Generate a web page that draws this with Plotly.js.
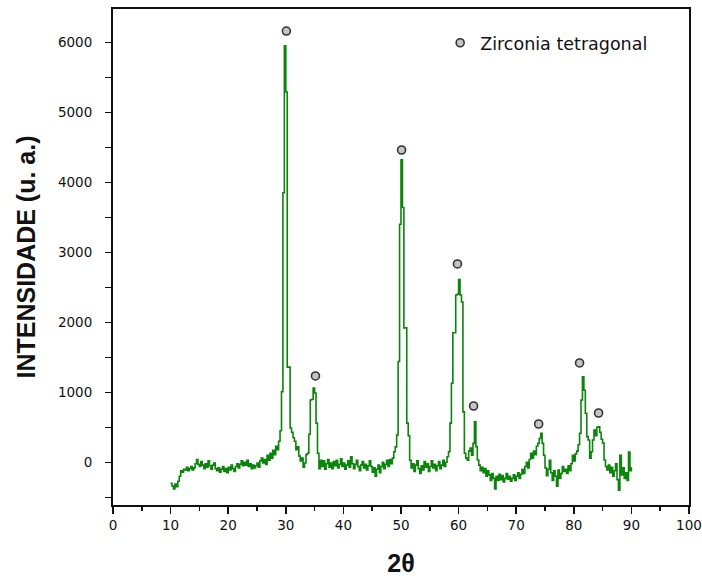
<!DOCTYPE html>
<html>
<head>
<meta charset="utf-8">
<script src="https://cdn.plot.ly/plotly-3.0.1.min.js"></script>
<style>html,body{margin:0;padding:0;background:#fff;}#chart{width:702px;height:579px;}</style>
</head>
<body>
<div id="chart"></div>
<script>
// 2-theta grid (degrees)
const twoTheta = [
10.00,10.25,10.50,10.75,11.00,11.25,11.50,11.75,12.00,12.25,12.50,12.75,13.00,13.25,13.50,13.75,
14.00,14.25,14.50,14.75,15.00,15.25,15.50,15.75,16.00,16.25,16.50,16.75,17.00,17.25,17.50,17.75,
18.00,18.25,18.50,18.75,19.00,19.25,19.50,19.75,20.00,20.25,20.50,20.75,21.00,21.25,21.50,21.75,
22.00,22.25,22.50,22.75,23.00,23.25,23.50,23.75,24.00,24.25,24.50,24.75,25.00,25.25,25.50,25.75,
26.00,26.25,26.50,26.75,27.00,27.25,27.50,27.75,28.00,28.25,28.50,28.75,29.00,29.25,29.50,29.75,
30.00,30.25,30.50,30.75,31.00,31.25,31.50,31.75,32.00,32.25,32.50,32.75,33.00,33.25,33.50,33.75,
34.00,34.25,34.50,34.75,35.00,35.25,35.50,35.75,36.00,36.25,36.50,36.75,37.00,37.25,37.50,37.75,
38.00,38.25,38.50,38.75,39.00,39.25,39.50,39.75,40.00,40.25,40.50,40.75,41.00,41.25,41.50,41.75,
42.00,42.25,42.50,42.75,43.00,43.25,43.50,43.75,44.00,44.25,44.50,44.75,45.00,45.25,45.50,45.75,
46.00,46.25,46.50,46.75,47.00,47.25,47.50,47.75,48.00,48.25,48.50,48.75,49.00,49.25,49.50,49.75,
50.00,50.25,50.50,50.75,51.00,51.25,51.50,51.75,52.00,52.25,52.50,52.75,53.00,53.25,53.50,53.75,
54.00,54.25,54.50,54.75,55.00,55.25,55.50,55.75,56.00,56.25,56.50,56.75,57.00,57.25,57.50,57.75,
58.00,58.25,58.50,58.75,59.00,59.25,59.50,59.75,60.00,60.25,60.50,60.75,61.00,61.25,61.50,61.75,
62.00,62.25,62.50,62.75,63.00,63.25,63.50,63.75,64.00,64.25,64.50,64.75,65.00,65.25,65.50,65.75,
66.00,66.25,66.50,66.75,67.00,67.25,67.50,67.75,68.00,68.25,68.50,68.75,69.00,69.25,69.50,69.75,
70.00,70.25,70.50,70.75,71.00,71.25,71.50,71.75,72.00,72.25,72.50,72.75,73.00,73.25,73.50,73.75,
74.00,74.25,74.50,74.75,75.00,75.25,75.50,75.75,76.00,76.25,76.50,76.75,77.00,77.25,77.50,77.75,
78.00,78.25,78.50,78.75,79.00,79.25,79.50,79.75,80.00,80.25,80.50,80.75,81.00,81.25,81.50,81.75,
82.00,82.25,82.50,82.75,83.00,83.25,83.50,83.75,84.00,84.25,84.50,84.75,85.00,85.25,85.50,85.75,
86.00,86.25,86.50,86.75,87.00,87.25,87.50,87.75,88.00,88.25,88.50,88.75,89.00,89.25,89.50,89.75,
90.00
];
// Intensity (a.u.)
const intensity = [
-300,-340,-380,-310,-350,-270,-200,-120,-140,-100,-110,-70,-120,-90,-60,-110,
-80,-20,40,-30,-60,10,-40,-90,-20,-70,20,-50,-100,-40,-10,-90,
-120,-80,-140,-100,-60,-130,-90,-150,-70,-110,-40,-90,-130,-60,-20,-80,
-30,20,-50,0,-40,30,-60,-20,-90,-40,-80,-50,-10,-70,20,60,
-10,40,-30,100,30,130,60,170,110,230,180,300,450,1010,3850,5950,
5290,1360,1360,490,430,350,300,180,220,90,20,60,-70,-10,110,130,
400,890,900,1060,990,560,130,-90,30,-60,20,-100,-20,40,-70,-10,
-90,10,-50,30,-80,-30,50,-60,-10,-100,-40,20,-70,80,-20,-90,
-30,30,-60,-120,-40,10,-80,-30,-110,-50,20,-60,-140,-80,-200,-100,
-40,-150,-60,0,-90,-30,30,-60,40,-20,60,150,220,390,1440,3400,
4320,3640,1920,1920,560,380,30,-80,-20,-130,-40,20,-90,-160,-50,-110,
10,-70,-20,-130,-60,20,-80,-30,-120,-50,10,-90,-40,30,-60,0,
80,150,560,1130,1850,1850,2390,2400,2610,2390,2290,720,130,60,30,160,
205,100,270,580,223,33,-40,-120,-70,-150,-90,-200,-120,-180,-260,-160,
-230,-380,-200,-260,-170,-250,-190,-280,-230,-160,-240,-200,-270,-230,-180,-260,
-200,-150,-230,-170,-100,-160,-60,0,-80,40,130,60,160,110,230,270,
340,415,270,100,-80,-190,-100,30,-150,-260,-120,-200,-340,-110,-230,-160,
-60,-130,-100,-160,-50,-120,-20,100,20,120,160,250,415,890,1220,1030,
700,366,318,60,150,318,460,380,500,508,430,330,275,33,-60,-110,
-40,-150,-70,-200,-120,-20,-250,-400,100,-180,-80,-230,-150,-260,145,-120,
-70
];
// Peak markers: Zirconia tetragonal
const peakTheta = [30.1, 35.15, 50.1, 59.8, 62.6, 73.9, 81.0, 84.3];
const peakMark  = [6160, 1233, 4461, 2833, 804, 547, 1419, 704];
const legendName = "Zirconia tetragonal";

const FONT = "Liberation Sans, Arial, sans-serif";
const TICKFONT = "DejaVu Sans, Liberation Sans, sans-serif";

const traces = [
  {
    x: twoTheta, y: intensity, type: "scatter", mode: "lines",
    line: {color: "#0a840a", width: 1.6, shape: "hv"},
    showlegend: false, hoverinfo: "x+y"
  },
  {
    x: peakTheta, y: peakMark, type: "scatter", mode: "markers",
    name: legendName,
    marker: {symbol: "circle", size: 8, color: "#c4c4c4", line: {color: "#333", width: 1.6}},
    showlegend: true
  }
];

const layout = {
  width: 702, height: 579,
  margin: {l: 113, r: 13, t: 9, b: 74},
  paper_bgcolor: "#fff", plot_bgcolor: "#fff",
  font: {family: FONT, color: "#111", size: 13},
  showlegend: true,
  legend: {
    x: 0.568, y: 0.968, xanchor: "left", yanchor: "top",
    bgcolor: "rgba(0,0,0,0)", borderwidth: 0,
    font: {family: TICKFONT, size: 17.5, color: "#111"},
    itemwidth: 30
  },
  xaxis: {
    range: [0, 100], tickmode: "linear", tick0: 0, dtick: 10,
    ticks: "outside", ticklen: 7, tickwidth: 1.5, tickcolor: "#111",
    minor: {dtick: 5, ticks: "outside", ticklen: 4, tickwidth: 1.5, tickcolor: "#111", showgrid: false},
    showline: true, linecolor: "#111", linewidth: 2, mirror: true,
    showgrid: false, zeroline: false,
    tickfont: {family: TICKFONT, size: 13.5, color: "#111"},
    title: {text: "<b>2θ</b>", font: {family: FONT, size: 25, color: "#111"}, standoff: 22}
  },
  yaxis: {
    range: [-610, 6475], tickmode: "linear", tick0: 0, dtick: 1000,
    ticks: "outside", ticklen: 6, tickwidth: 1.5, tickcolor: "#111",
    minor: {dtick: 500, ticks: "outside", ticklen: 6, tickwidth: 1.5, tickcolor: "#111", showgrid: false},
    showline: true, linecolor: "#111", linewidth: 2, mirror: true,
    showgrid: false, zeroline: false,
    ticklabelstandoff: 10,
    tickfont: {family: TICKFONT, size: 13.5, color: "#111"},
    title: {text: "<b>INTENSIDADE (u. a.)</b>", font: {family: FONT, size: 25, color: "#111"}, standoff: 15}
  }
};

Plotly.newPlot("chart", traces, layout, {displayModeBar: false, staticPlot: true});
</script>
</body>
</html>
